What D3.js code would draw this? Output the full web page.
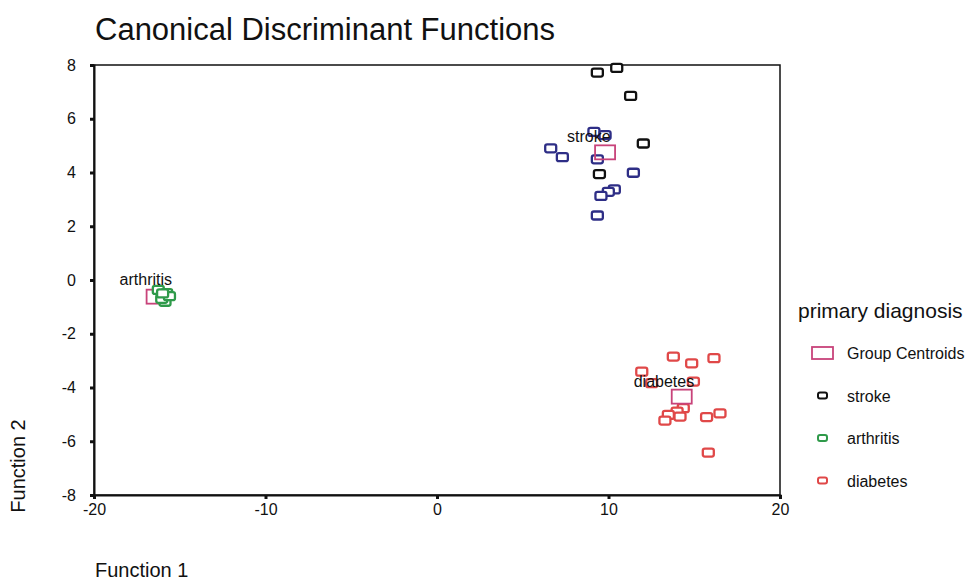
<!DOCTYPE html>
<html><head><meta charset="utf-8">
<script src="https://cdn.jsdelivr.net/npm/d3@7/dist/d3.min.js"></script>
<style>body{margin:0;background:#fff}svg{font-family:Arial,"Liberation Sans",sans-serif}</style>
</head><body><svg id="c" width="973" height="580"></svg>
<script>
const xTicks = [-20, -10, 0, 10, 20];
const yTicks = [8, 6, 4, 2, 0, -2, -4, -6, -8];
const groups = ["stroke", "arthritis", "diabetes"];
const strokeX = [9.35, 10.48, 11.29, 12.03, 9.47];
const strokeY = [7.72, 7.89, 6.85, 5.08, 3.94];
const strokeBlueX = [9.15, 9.8, 6.63, 7.31, 9.35, 11.45, 10.34, 9.99, 9.56, 9.35];
const strokeBlueY = [5.51, 5.39, 4.9, 4.57, 4.49, 3.99, 3.37, 3.28, 3.13, 2.4];
const arthritisX = [-16.25, -15.76, -15.86, -16.05, -15.6, -16.0];
const arthritisY = [-0.37, -0.49, -0.81, -0.7, -0.6, -0.5];
const diabetesX = [13.78, 14.85, 16.15, 11.94, 12.52, 14.95, 14.36, 14.0, 14.17, 13.49, 13.29, 15.72, 16.5, 15.82];
const diabetesY = [-2.85, -3.10, -2.91, -3.41, -3.84, -3.78, -4.77, -4.9, -5.08, -5.02, -5.23, -5.1, -4.96, -6.42];
const centroidX = [9.8, -16.35, 14.27];
const centroidY = [4.75, -0.62, -4.34];
const legendLabels = ["Group Centroids", "stroke", "arthritis", "diabetes"];

const svg = d3.select("#c");
const L = 94, R = 780, T = 65, B = 495;
const x = d3.scaleLinear().domain([-20, 20]).range([L, R]);
const y = d3.scaleLinear().domain([-8, 8]).range([B, T]);

svg.append("text").attr("x", 95).attr("y", 40).attr("font-size", 31).attr("fill", "#111")
  .text("Canonical Discriminant Functions");

// frame
svg.append("rect").attr("x", L).attr("y", T).attr("width", R - L).attr("height", B - T)
  .attr("fill", "none").attr("stroke", "#111").attr("stroke-width", 1.5);

const fmt = d => String(d);
const yAxis = svg.append("g").attr("transform", `translate(${L},0)`)
  .call(d3.axisLeft(y).tickValues(yTicks).tickSize(4).tickPadding(14).tickFormat(fmt));
yAxis.select(".domain").attr("stroke", "#111").attr("stroke-width", 2);
yAxis.selectAll(".tick line").attr("stroke", "#111").attr("stroke-width", 3);
yAxis.selectAll(".tick text").attr("font-size", 16).attr("fill", "#111").attr("font-family", "Arial, Liberation Sans, sans-serif");

const xAxis = svg.append("g").attr("transform", `translate(0,${B})`)
  .call(d3.axisBottom(x).tickValues(xTicks).tickSize(4).tickPadding(5).tickFormat(fmt));
xAxis.select(".domain").attr("stroke", "#111").attr("stroke-width", 2);
xAxis.selectAll(".tick line").attr("stroke", "#111").attr("stroke-width", 3);
xAxis.selectAll(".tick text").attr("font-size", 16).attr("fill", "#111").attr("font-family", "Arial, Liberation Sans, sans-serif");

svg.append("text").attr("x", 95).attr("y", 577).attr("font-size", 20).attr("fill", "#111").text("Function 1");
svg.append("text").attr("transform", "translate(25,466) rotate(-90)").attr("text-anchor", "middle")
  .attr("font-size", 20).attr("fill", "#111").text("Function 2");

function marks(xs, ys, color) {
  svg.append("g").selectAll("rect").data(xs.map((d, i) => [d, ys[i]])).join("rect")
    .attr("x", d => x(d[0]) - 5.5).attr("y", d => y(d[1]) - 4)
    .attr("width", 11).attr("height", 8).attr("rx", 2)
    .attr("fill", "#fff").attr("stroke", color).attr("stroke-width", 2.3);
}
const colors = { stroke: "#111", strokeBlue: "#2e2e86", arthritis: "#2f9a4a", diabetes: "#e04848", centroid: "#c8437a" };

function centroid(i) {
  svg.append("rect").attr("x", x(centroidX[i]) - 10).attr("y", y(centroidY[i]) - 7)
    .attr("width", 20).attr("height", 14).attr("fill", "none")
    .attr("stroke", colors.centroid).attr("stroke-width", 1.8);
}
centroid(1);
marks(arthritisX, arthritisY, colors.arthritis);
marks(strokeBlueX, strokeBlueY, colors.strokeBlue);
marks(strokeX, strokeY, colors.stroke);
marks(diabetesX, diabetesY, colors.diabetes);
centroid(0); centroid(2);

// group labels
const labelOffsets = [[-38, -10], [-37, -12], [-48, -10]];
groups.forEach((g, i) => {
  svg.append("text").attr("x", x(centroidX[i]) + labelOffsets[i][0]).attr("y", y(centroidY[i]) + labelOffsets[i][1])
    .attr("font-size", 16).attr("fill", "#111").text(g);
});

// legend
svg.append("text").attr("x", 798).attr("y", 318).attr("font-size", 21).attr("fill", "#111").text("primary diagnosis");
const legendColors = [colors.centroid, colors.stroke, colors.arthritis, colors.diabetes];
legendLabels.forEach((lab, i) => {
  const cy = 353 + i * 42.5;
  if (i === 0) {
    svg.append("rect").attr("x", 812).attr("y", cy - 6).attr("width", 21).attr("height", 12)
      .attr("fill", "none").attr("stroke", legendColors[i]).attr("stroke-width", 1.8);
  } else {
    svg.append("rect").attr("x", 818).attr("y", cy - 3).attr("width", 9).attr("height", 6).attr("rx", 2)
      .attr("fill", "#fff").attr("stroke", legendColors[i]).attr("stroke-width", 2);
  }
  svg.append("text").attr("x", 847).attr("y", cy + 6).attr("font-size", 16).attr("fill", "#111").text(lab);
});
</script></body></html>
